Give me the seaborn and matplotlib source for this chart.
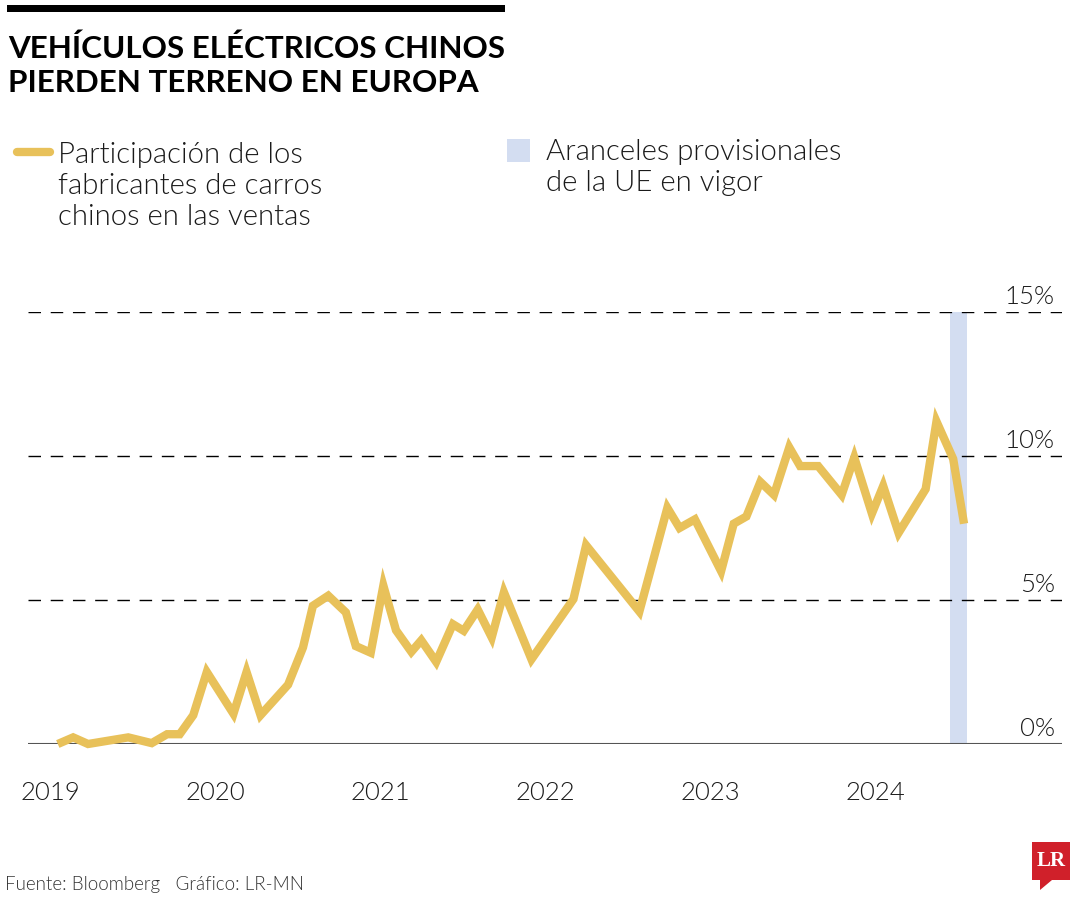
import matplotlib
matplotlib.use("Agg")
import matplotlib.pyplot as plt
from matplotlib.patches import Rectangle, Polygon
import seaborn as sns
import pandas as pd

# ---- data ----
fechas = [
    "2019-01-17", "2019-02-20", "2019-03-25", "2019-06-22", "2019-08-13", "2019-09-16",
    "2019-10-14", "2019-11-13", "2019-12-13", "2020-02-10", "2020-03-10", "2020-04-10",
    "2020-06-10", "2020-07-13", "2020-08-04", "2020-09-07", "2020-10-16", "2020-11-07",
    "2020-12-10", "2021-01-07", "2021-02-04", "2021-03-10", "2021-04-01", "2021-05-04",
    "2021-06-10", "2021-07-04", "2021-08-04", "2021-09-04", "2021-10-01", "2021-12-01",
    "2022-03-04", "2022-04-01", "2022-07-28", "2022-09-28", "2022-10-25", "2022-11-28",
    "2023-01-25", "2023-02-22", "2023-03-22", "2023-04-22", "2023-05-22", "2023-06-25",
    "2023-07-19", "2023-08-28", "2023-10-19", "2023-11-16", "2023-12-25", "2024-01-19",
    "2024-02-22", "2024-04-22", "2024-05-16", "2024-06-22", "2024-07-16",
]
participacion = [
    0.0, 0.23, 0.0, 0.23, 0.03, 0.34,
    0.34, 1.0, 2.5, 1.05, 2.5, 1.0,
    2.06, 3.35, 4.8, 5.15, 4.57, 3.4,
    3.17, 5.5, 3.95, 3.2, 3.6, 2.85,
    4.16, 3.93, 4.67, 3.7, 5.27, 2.94,
    5.03, 6.9, 4.6, 8.2, 7.5, 7.8,
    6.0, 7.65, 7.9, 9.1, 8.65, 10.3,
    9.65, 9.65, 8.65, 9.95, 8.0, 8.96,
    7.33, 8.85, 11.2, 9.9, 7.65,
]
aranceles_inicio = "2024-06-14"
aranceles_fin = "2024-07-22"
anios = [2019, 2020, 2021, 2022, 2023, 2024]
niveles_y = [0, 5, 10, 15]

titulo = ["VEHÍCULOS ELÉCTRICOS CHINOS", "PIERDEN TERRENO EN EUROPA"]
leyenda_linea = ["Participación de los", "fabricantes de carros", "chinos en las ventas"]
leyenda_banda = ["Aranceles provisionales", "de la UE en vigor"]
fuente = "Fuente: Bloomberg   Gráfico: LR-MN"

AMARILLO = "#E8C15A"
AZUL = "#D3DDF1"
TEXTO = "#1a1a1a"

df = pd.DataFrame({"fecha": pd.to_datetime(fechas), "valor": participacion})

sns.set_theme(style="white")
plt.rcParams["font.family"] = ["Lato", "DejaVu Sans"]

fig = plt.figure(figsize=(10.8, 9), dpi=100)
W, H = 1080, 900
def fx(px): return px / W
def fy(py): return 1 - py / H

ax = fig.add_axes([fx(28), fy(744), fx(1062) - fx(28), fy(312) - fy(744)])

ax.axvspan(pd.Timestamp(aranceles_inicio), pd.Timestamp(aranceles_fin),
           ymin=0, ymax=1, color=AZUL, lw=0, zorder=1)

for v in niveles_y[1:]:
    ax.axhline(v, color="black", lw=1.0, ls=(0, (9, 7)), zorder=2)
ax.axhline(0, color="#555555", lw=1.5, zorder=2)

sns.lineplot(data=df, x="fecha", y="valor", ax=ax, color=AMARILLO, lw=6,
             solid_capstyle="butt", solid_joinstyle="miter", zorder=3, clip_on=False)

ax.set_ylim(0, 15)
ax.set_xlim(pd.Timestamp("2018-11-12"), pd.Timestamp("2025-02-18"))
ax.set_xticks([pd.Timestamp(f"{a}-01-01") for a in anios])
ax.set_xticklabels([str(a) for a in anios], fontsize=18.5, color=TEXTO, fontweight=300)
ax.tick_params(axis="x", length=0, pad=27)
ax.set_yticks([])
ax.set_xlabel("")
ax.set_ylabel("")
for s in ax.spines.values():
    s.set_visible(False)

for v in niveles_y:
    ax.annotate(f"{v}%", xy=(0.993, v), xycoords=("axes fraction", "data"),
                xytext=(0, 6), textcoords="offset points", ha="right", va="baseline",
                fontsize=18.5, color=TEXTO, fontweight=300)

# top bar + title
fig.patches.append(Rectangle((fx(7), fy(12)), fx(505) - fx(7), fy(5) - fy(12),
                             transform=fig.transFigure, color="black", lw=0))
for i, linea in enumerate(titulo):
    fig.text(fx(8), fy(58 + 34 * i), linea, fontsize=22.6, fontweight="bold",
             ha="left", va="baseline", color="black")

# legend
fig.add_artist(plt.Line2D([fx(17), fx(50)], [fy(152), fy(152)], color=AMARILLO, lw=6,
                          solid_capstyle="round", transform=fig.transFigure))
for i, linea in enumerate(leyenda_linea):
    fig.text(fx(58), fy(163 + 31 * i), linea, fontsize=21.2, fontweight=300,
             ha="left", va="baseline", color=TEXTO)
fig.patches.append(Rectangle((fx(507), fy(162)), fx(530) - fx(507), fy(139) - fy(162),
                             transform=fig.transFigure, color=AZUL, lw=0))
for i, linea in enumerate(leyenda_banda):
    fig.text(fx(546), fy(160 + 31 * i), linea, fontsize=21.2, fontweight=300,
             ha="left", va="baseline", color=TEXTO)

# footer
fig.text(fx(5), fy(890), fuente, fontsize=13.5, ha="left", va="baseline", color="#333333",
         fontweight=300)

# LR logo
fig.patches.append(Rectangle((fx(1032), fy(880)), fx(1070) - fx(1032), fy(842) - fy(880),
                             transform=fig.transFigure, color="#D0202A", lw=0))
fig.patches.append(Polygon([(fx(1040), fy(880)), (fx(1052), fy(880)), (fx(1040), fy(890))],
                           closed=True, transform=fig.transFigure, color="#D0202A", lw=0))
fig.text(fx(1051), fy(861), "LR", fontsize=15, fontweight="bold", color="white",
         ha="center", va="center", family=["Liberation Serif", "DejaVu Serif"])

fig.savefig("out.png", dpi=100, facecolor="white")
